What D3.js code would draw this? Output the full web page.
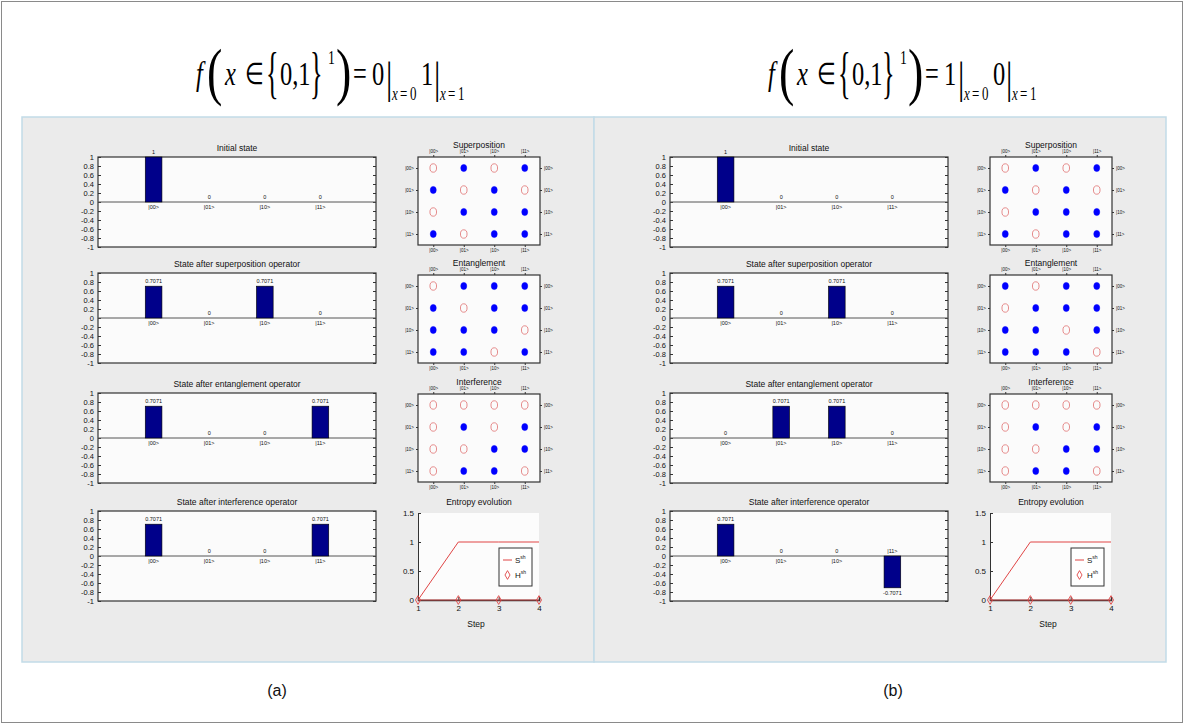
<!DOCTYPE html>
<html><head><meta charset="utf-8">
<script src="https://cdn.jsdelivr.net/npm/d3@7"></script>
<style>body{margin:0;background:#fff}</style>
</head><body><svg id="c" width="1184" height="724"></svg>
<script>
// ---------- data ----------
const basis = ["|00>", "|01>", "|10>", "|11>"];
const barYTicks = [1, 0.8, 0.6, 0.4, 0.2, 0, -0.2, -0.4, -0.6, -0.8, -1];
const barTitles = ["Initial state", "State after superposition operator", "State after entanglement operator", "State after interference operator"];
const matrixTitles = ["Superposition", "Entanglement", "Interference"];
const panelLabels = ["(a)", "(b)"];

// amplitudes, case (a): f = 0|x=0 1|x=1
const aInitial = [1, 0, 0, 0];
const aSuper = [0.7071, 0, 0.7071, 0];
const aEntangle = [0.7071, 0, 0, 0.7071];
const aInterfere = [0.7071, 0, 0, 0.7071];
// amplitudes, case (b): f = 1|x=0 0|x=1
const bInitial = [1, 0, 0, 0];
const bSuper = [0.7071, 0, 0.7071, 0];
const bEntangle = [0, 0.7071, 0.7071, 0];
const bInterfere = [0.7071, 0, 0, -0.7071];

// operator matrices: 1 = non-zero entry (filled), 0 = zero entry (open)
const aSuperMat = [[0,1,0,1],[1,0,1,0],[0,1,1,1],[1,0,1,1]];
const aEntangleMat = [[0,1,1,1],[1,0,1,1],[1,1,1,0],[1,1,0,1]];
const aInterfereMat = [[0,0,0,0],[0,1,0,1],[0,0,1,1],[0,1,1,0]];
const bSuperMat = [[0,1,0,1],[1,0,1,0],[0,1,1,1],[1,0,1,1]];
const bEntangleMat = [[1,0,1,1],[0,1,1,1],[1,1,0,1],[1,1,1,0]];
const bInterfereMat = [[0,0,0,0],[0,1,0,1],[0,0,1,1],[0,1,1,0]];

// entropy evolution
const steps = [1, 2, 3, 4];
const entropyS = [0, 1, 1, 1];
const entropyH = [0, 0, 0, 0];
const entropyYTicks = [0, 0.5, 1, 1.5];

// ---------- drawing ----------
const svg = d3.select("#c");
const FONT = "'Liberation Sans Narrow','Liberation Sans',Arial,sans-serif";
const SERIF = "'Liberation Serif','Times New Roman',serif";

svg.append("rect").attr("x", 1.5).attr("y", 1.5).attr("width", 1181).attr("height", 721)
  .attr("fill", "#fff").attr("stroke", "#8a8a8a");

const panels = [
  {dx: 0, bars: [aInitial, aSuper, aEntangle, aInterfere], mats: [aSuperMat, aEntangleMat, aInterfereMat], f: ["0", "1"]},
  {dx: 572, bars: [bInitial, bSuper, bEntangle, bInterfere], mats: [bSuperMat, bEntangleMat, bInterfereMat], f: ["1", "0"]}
];

const barTops = [157, 273, 393, 511];
const matTops = [157, 275, 394];

function fmt(v) { return v === 0 ? "0" : String(v); }

function drawBar(g, x0, top, values, title) {
  const w = 278, h = 90;
  const xs = d3.scaleLinear().domain([0, 5]).range([x0, x0 + w]);
  const ys = d3.scaleLinear().domain([-1, 1]).range([top + h, top]);
  g.append("rect").attr("x", x0).attr("y", top).attr("width", w).attr("height", h)
    .attr("fill", "#fbfbfb");
  const la = g.append("g").attr("transform", `translate(${x0},0)`)
    .call(d3.axisLeft(ys).tickValues(barYTicks).tickSize(-3).tickPadding(4).tickFormat(d => String(d)));
  la.select(".domain").remove();
  la.selectAll("text").attr("font-family", FONT).attr("font-size", 7.5).attr("fill", "#111");
  la.selectAll("line").attr("stroke", "#333");
  const ra = g.append("g").attr("transform", `translate(${x0 + w},0)`)
    .call(d3.axisRight(ys).tickValues(barYTicks).tickSize(-3).tickFormat(""));
  ra.select(".domain").remove();
  ra.selectAll("line").attr("stroke", "#333");
  g.append("rect").attr("x", x0).attr("y", top).attr("width", w).attr("height", h)
    .attr("fill", "none").attr("stroke", "#333").attr("stroke-width", 1.2);
  g.append("line").attr("x1", x0).attr("x2", x0 + w).attr("y1", ys(0)).attr("y2", ys(0))
    .attr("stroke", "#555").attr("stroke-width", 1);
  g.selectAll(".bar").data(values).enter().append("rect")
    .attr("x", (d, i) => xs(i + 1 - 0.15))
    .attr("width", xs(0.3) - xs(0))
    .attr("y", d => ys(Math.max(0, d)))
    .attr("height", d => Math.abs(ys(d) - ys(0)))
    .attr("fill", "#00008a").attr("stroke", "#000").attr("stroke-width", 0.6)
    .attr("display", d => d === 0 ? "none" : null);
  g.selectAll(".val").data(values).enter().append("text")
    .attr("x", (d, i) => xs(i + 1))
    .attr("y", d => d < 0 ? ys(d) + 7 : ys(d) - 3)
    .attr("text-anchor", "middle").attr("font-family", FONT).attr("font-size", 5.5).attr("fill", "#111")
    .text(d => fmt(d));
  g.selectAll(".lab").data(values).enter().append("text")
    .attr("x", (d, i) => xs(i + 1))
    .attr("y", d => d < 0 ? ys(0) - 3 : ys(0) + 7)
    .attr("text-anchor", "middle").attr("font-family", FONT).attr("font-size", 5.5).attr("fill", "#111")
    .text((d, i) => basis[i]);
  g.append("text").attr("x", x0 + w / 2).attr("y", top - 6).attr("text-anchor", "middle")
    .attr("font-family", FONT).attr("font-size", 8.5).attr("fill", "#111").text(title);
}

function drawMatrix(g, x0, top, mat, title) {
  const w = 122, h = 88;
  const xs = d3.scaleLinear().domain([0.5, 4.5]).range([x0, x0 + w]);
  const ys = d3.scaleLinear().domain([0.5, 4.5]).range([top, top + h]);
  g.append("rect").attr("x", x0).attr("y", top).attr("width", w).attr("height", h)
    .attr("fill", "#fbfbfb").attr("stroke", "#333").attr("stroke-width", 1.2);
  const idx = [1, 2, 3, 4];
  const tf = d => basis[d - 1];
  const axes = [
    [d3.axisTop(xs), `translate(0,${top})`],
    [d3.axisBottom(xs), `translate(0,${top + h})`],
    [d3.axisLeft(ys), `translate(${x0},0)`],
    [d3.axisRight(ys), `translate(${x0 + w},0)`]
  ];
  axes.forEach(([ax, tr]) => {
    const a = g.append("g").attr("transform", tr)
      .call(ax.tickValues(idx).tickFormat(tf).tickSize(2).tickPadding(2));
    a.select(".domain").remove();
    a.selectAll("line").attr("stroke", "#333");
    a.selectAll("text").attr("font-family", FONT).attr("font-size", 4.5).attr("fill", "#111");
  });
  const cells = [];
  mat.forEach((row, r) => row.forEach((v, c) => cells.push({r, c, v})));
  g.selectAll(".cell").data(cells).enter().append("ellipse")
    .attr("cx", d => xs(d.c + 1)).attr("cy", d => ys(d.r + 1))
    .attr("rx", d => d.v ? 3 : 3.3).attr("ry", d => d.v ? 3.6 : 4.2)
    .attr("fill", d => d.v ? "#0000ff" : "none")
    .attr("stroke", d => d.v ? "#0000ff" : "#e07070")
    .attr("stroke-width", d => d.v ? 0.5 : 0.8);
  g.append("text").attr("x", x0 + w / 2).attr("y", top - 9).attr("text-anchor", "middle")
    .attr("font-family", FONT).attr("font-size", 8.5).attr("fill", "#111").text(title);
}

function drawEntropy(g, x0) {
  const xs = d3.scaleLinear().domain([1, 4]).range([x0, x0 + 121]);
  const ys = d3.scaleLinear().domain([0, 1.5]).range([600, 513]);
  g.append("rect").attr("x", x0).attr("y", 513).attr("width", 121).attr("height", 87).attr("fill", "#fcfcfc");
  const la = g.append("g").attr("transform", `translate(${x0},0)`)
    .call(d3.axisLeft(ys).tickValues(entropyYTicks).tickSize(-3).tickPadding(4).tickFormat(d => String(d)));
  la.select(".domain").attr("stroke", "#333");
  la.selectAll("line").attr("stroke", "#333");
  la.selectAll("text").attr("font-family", FONT).attr("font-size", 8).attr("fill", "#111");
  const ba = g.append("g").attr("transform", `translate(0,600)`)
    .call(d3.axisBottom(xs).tickValues(steps).tickSize(-3).tickPadding(5).tickFormat(d => String(d)));
  ba.select(".domain").attr("stroke", "#333").attr("stroke-width", 1.5);
  ba.selectAll("line").attr("stroke", "#333");
  ba.selectAll("text").attr("font-family", FONT).attr("font-size", 8).attr("fill", "#111");
  const line = d3.line().x((d, i) => xs(steps[i])).y(d => ys(d));
  g.append("path").attr("d", line(entropyS)).attr("fill", "none").attr("stroke", "#e04545").attr("stroke-width", 1);
  g.append("path").attr("d", line(entropyH)).attr("fill", "none").attr("stroke", "#c04040").attr("stroke-width", 1);
  g.selectAll(".hm").data(entropyH).enter().append("path")
    .attr("transform", (d, i) => `translate(${xs(steps[i])},${ys(d)})`)
    .attr("d", d3.symbol(d3.symbolDiamond, 22)).attr("fill", "none").attr("stroke", "#e04545").attr("stroke-width", 0.9);
  // legend
  const lx = x0 + 81, ly = 548;
  g.append("rect").attr("x", lx).attr("y", ly).attr("width", 33).attr("height", 38)
    .attr("fill", "#fff").attr("stroke", "#333").attr("stroke-width", 1);
  g.append("line").attr("x1", lx + 4).attr("x2", lx + 13).attr("y1", ly + 12).attr("y2", ly + 12).attr("stroke", "#e04545");
  g.append("path").attr("transform", `translate(${lx + 8.5},${ly + 27})`)
    .attr("d", d3.symbol(d3.symbolDiamond, 22)).attr("fill", "none").attr("stroke", "#e04545").attr("stroke-width", 0.9);
  const t1 = g.append("text").attr("x", lx + 16).attr("y", ly + 15).attr("font-family", FONT).attr("font-size", 8).attr("fill", "#111");
  t1.append("tspan").text("S");
  t1.append("tspan").attr("dy", -4).attr("font-size", 5).text("sh");
  const t2 = g.append("text").attr("x", lx + 16).attr("y", ly + 30).attr("font-family", FONT).attr("font-size", 8).attr("fill", "#111");
  t2.append("tspan").text("H");
  t2.append("tspan").attr("dy", -4).attr("font-size", 5).text("sh");
  g.append("text").attr("x", x0 + 61).attr("y", 505).attr("text-anchor", "middle")
    .attr("font-family", FONT).attr("font-size", 8.5).attr("fill", "#111").text("Entropy evolution");
  g.append("text").attr("x", x0 + 58).attr("y", 627).attr("text-anchor", "middle")
    .attr("font-family", FONT).attr("font-size", 8.5).attr("fill", "#111").text("Step");
}

// formula title: pieces placed along the line, each horizontally condensed
function drawTitle(dx, f) {
  const pieces = [
    {x: 196, t: "f", s: 34, it: true, b: 85},
    {x: 207, t: "(", s: 64, b: 93},
    {x: 225, t: "x", s: 34, it: true, b: 85},
    {x: 245, t: "\u2208", s: 30, b: 84},
    {x: 266, t: "{", s: 58, b: 92, sx: 0.45},
    {x: 280, t: "0,1", s: 34, b: 85},
    {x: 310, t: "}", s: 58, b: 92, sx: 0.45},
    {x: 328, t: "1", s: 19, b: 64},
    {x: 336, t: ")", s: 64, b: 93},
    {x: 353, t: "=", s: 34, b: 85},
    {x: 372, t: f[0], s: 34, b: 85},
    {x: 386, t: "|", s: 44, b: 93},
    {x: 392, t: "x", s: 18, it: true, b: 100},
    {x: 400, t: "=", s: 18, b: 100},
    {x: 410, t: "0", s: 18, b: 100},
    {x: 421, t: f[1], s: 34, b: 85},
    {x: 434, t: "|", s: 44, b: 93},
    {x: 440, t: "x", s: 18, it: true, b: 100},
    {x: 448, t: "=", s: 18, b: 100},
    {x: 458, t: "1", s: 18, b: 100}
  ];
  pieces.forEach(p => {
    svg.append("text").attr("transform", `translate(${p.x + dx},${p.b}) scale(${p.sx || 0.72},1)`)
      .attr("font-family", SERIF).attr("font-size", p.s).attr("font-style", p.it ? "italic" : null)
      .attr("fill", "#000").text(p.t);
  });
}

panels.forEach((p, pi) => {
  const g = svg.append("g");
  g.append("rect").attr("x", 22 + p.dx).attr("y", 117).attr("width", 572).attr("height", 545)
    .attr("fill", "#ebebeb").attr("stroke", "#c2dbe8").attr("stroke-width", 1.5);
  p.bars.forEach((vals, i) => drawBar(g, 98 + p.dx, barTops[i], vals, barTitles[i]));
  p.mats.forEach((m, i) => drawMatrix(g, 418 + p.dx, matTops[i], m, matrixTitles[i]));
  drawEntropy(g, 418 + p.dx);
  svg.append("text").attr("x", 277 + p.dx + (pi ? 44 : 0)).attr("y", 696).attr("text-anchor", "middle")
    .attr("font-family", "'Liberation Sans',Arial,sans-serif").attr("font-size", 16).attr("fill", "#111")
    .text(panelLabels[pi]);
  drawTitle(p.dx, p.f);
});
</script></body></html>
